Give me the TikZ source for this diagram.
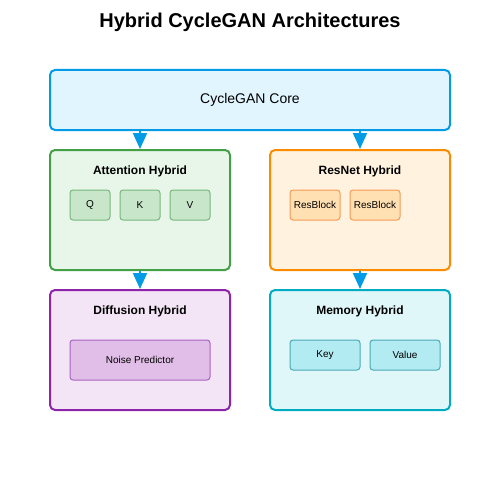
\documentclass[tikz,border=0pt]{standalone}
\usepackage{fontspec}
\setmainfont{Liberation Sans}
\usetikzlibrary{arrows.meta}

\definecolor{coreline}{HTML}{039BE5}
\definecolor{corefill}{HTML}{E1F5FE}
\definecolor{attline}{HTML}{43A047}
\definecolor{attfill}{HTML}{E8F5E9}
\definecolor{attpart}{HTML}{C8E6C9}
\definecolor{attpartline}{HTML}{76B97A}
\definecolor{resline}{HTML}{FB8C00}
\definecolor{resfill}{HTML}{FFF3E0}
\definecolor{respart}{HTML}{FFE0B2}
\definecolor{respartline}{HTML}{F79A55}
\definecolor{difline}{HTML}{8E24AA}
\definecolor{diffill}{HTML}{F3E5F5}
\definecolor{difpart}{HTML}{E1BEE7}
\definecolor{difpartline}{HTML}{AB63C3}
\definecolor{memline}{HTML}{00ACC1}
\definecolor{memfill}{HTML}{E0F7FA}
\definecolor{mempart}{HTML}{B2EBF2}
\definecolor{mempartline}{HTML}{4AABB6}

\tikzset{
  hybrid/.style={draw, rounded corners=5pt, line width=2pt, minimum width=180pt, minimum height=120pt, inner sep=0pt},
  part/.style={draw, rounded corners=3pt, line width=1pt, minimum height=30pt, inner sep=0pt, font=\fontsize{10}{12}\selectfont},
  htitle/.style={font=\bfseries\fontsize{12}{14}\selectfont},
  flow/.style={draw=coreline, line width=2pt, -{Triangle[length=16pt, width=14pt, fill=coreline]}}
}

\begin{document}
\begin{tikzpicture}[x=1pt, y=-1pt]
    \useasboundingbox (0,0) rectangle (500,500);

    \node (title) at (250, 22) {\bfseries\fontsize{20}{24}\selectfont Hybrid CycleGAN Architectures};

    \node[draw=coreline, fill=corefill, rounded corners=5pt, line width=2pt, minimum width=400pt, minimum height=60pt, inner sep=0pt, font=\fontsize{14}{16}\selectfont] (core) at (250, 100) {CycleGAN Core};

    % attention
    \node[hybrid, draw=attline, fill=attfill] (att) at (140, 210) {};
    \node[htitle] (atttitle) at (140, 171) {Attention Hybrid};
    \node[part, draw=attpartline, fill=attpart, minimum width=40pt] (q) at (90, 205) {Q};
    \node[part, draw=attpartline, fill=attpart, minimum width=40pt] (k) at (140, 205) {K};
    \node[part, draw=attpartline, fill=attpart, minimum width=40pt] (v) at (190, 205) {V};

    % resnet
    \node[hybrid, draw=resline, fill=resfill] (res) at (360, 210) {};
    \node[htitle] (restitle) at (360, 171) {ResNet Hybrid};
    \node[part, draw=respartline, fill=respart, minimum width=50pt] (rb1) at (315, 205) {ResBlock};
    \node[part, draw=respartline, fill=respart, minimum width=50pt] (rb2) at (375, 205) {ResBlock};

    % diffusion
    \node[hybrid, draw=difline, fill=diffill] (dif) at (140, 350) {};
    \node[htitle] (diftitle) at (140, 311) {Diffusion Hybrid};
    \node[part, draw=difpartline, fill=difpart, minimum width=140pt, minimum height=40pt] (noise) at (140, 360) {Noise Predictor};

    % memory
    \node[hybrid, draw=memline, fill=memfill] (mem) at (360, 350) {};
    \node[htitle] (memtitle) at (360, 311) {Memory Hybrid};
    \node[part, draw=mempartline, fill=mempart, minimum width=70pt] (key) at (325, 355) {Key};
    \node[part, draw=mempartline, fill=mempart, minimum width=70pt] (val) at (405, 355) {Value};

    \draw[flow] (core.south -| att.north) -- (att.north);
    \draw[flow] (core.south -| res.north) -- (res.north);
    \draw[flow] (att.south) -- (dif.north);
    \draw[flow] (res.south) -- (mem.north);

\end{tikzpicture}
\end{document}
